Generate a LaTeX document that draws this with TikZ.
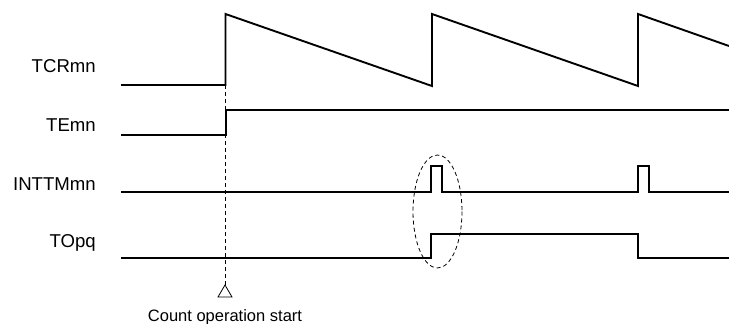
\documentclass[tikz,border=0pt]{standalone}
\usepackage{fontspec}
\setmainfont{Liberation Sans}
\begin{document}
\begin{tikzpicture}[x=1pt,y=-1pt,
  sig/.style={line width=1.9pt,line join=miter,line cap=butt},
  lbl/.style={anchor=base east,inner sep=0pt,font=\fontsize{18.6}{21}\selectfont},
  guide/.style={line width=0.8pt,dash pattern=on 4pt off 3pt}]
\useasboundingbox (0,0) rectangle (729,324);
% labels
\node[lbl] (tcr) at (96,72) {TCRmn};
\node[lbl] (te) at (96,131) {TEmn};
\node[lbl] (intt) at (96,190) {INTTMmn};
\node[lbl] (to) at (96,247) {TOpq};
% signals
\draw[sig] (121,85) -- (225.5,85) -- (225.5,14) -- (432,86) -- (432,14) -- (638,86) -- (638,14) -- (729,46);
\draw[sig] (121,135) -- (226,135) -- (226,110) -- (729,110);
\draw[sig] (121,192) -- (431,192) -- (431,166) -- (442,166) -- (442,192) -- (638,192) -- (638,166) -- (649,166) -- (649,192) -- (729,192);
\draw[sig] (121,258) -- (431,258) -- (431,234) -- (638,234) -- (638,258) -- (729,258);
% start marker
\coordinate (dtop) at (225,85);
\coordinate (apex) at (225,285);
\draw[guide] (dtop) -- (apex);
\draw[line width=0.8pt,line join=miter] (apex) -- (218,297) -- (232,297) -- cycle;
\node[anchor=base,inner sep=0pt,font=\fontsize{16.5}{20}\selectfont] (cnt) at (225,321) {Count operation start};
% ellipse highlight
\draw[guide] (437.5,211.5) ellipse [x radius=24.5,y radius=56.5];
\end{tikzpicture}
\end{document}
